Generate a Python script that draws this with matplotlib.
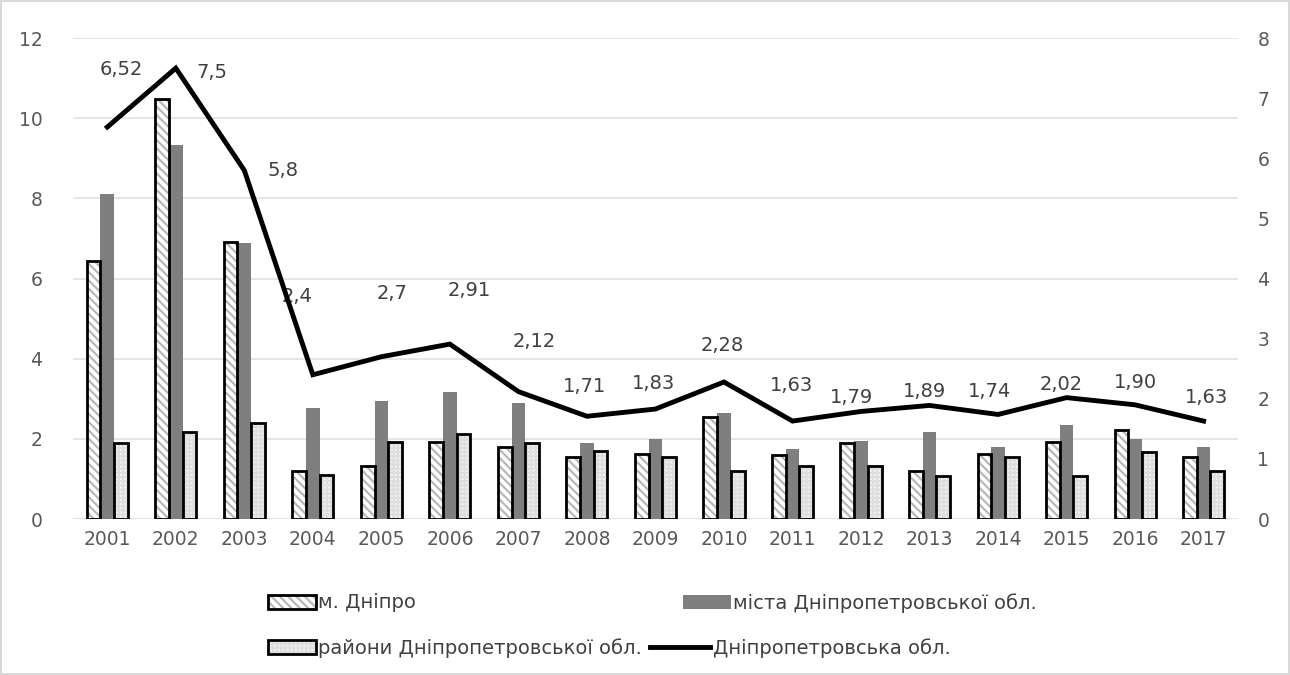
import matplotlib
matplotlib.use("Agg")
import matplotlib.pyplot as plt
from matplotlib.patches import Patch
from matplotlib.lines import Line2D
import numpy as np

years = ['2001', '2002', '2003', '2004', '2005', '2006', '2007', '2008', '2009',
         '2010', '2011', '2012', '2013', '2014', '2015', '2016', '2017']
dnipro = [6.45, 10.48, 6.9, 1.2, 1.32, 1.92, 1.8, 1.55, 1.62,
          2.55, 1.6, 1.9, 1.2, 1.62, 1.92, 2.22, 1.55]
cities = [8.1, 9.33, 6.88, 2.78, 2.95, 3.17, 2.9, 1.9, 2.0,
          2.65, 1.75, 1.95, 2.18, 1.8, 2.35, 2.0, 1.8]
districts = [1.9, 2.18, 2.4, 1.1, 1.92, 2.12, 1.9, 1.7, 1.55,
             1.2, 1.32, 1.32, 1.08, 1.55, 1.08, 1.68, 1.2]
oblast = [6.52, 7.5, 5.8, 2.4, 2.7, 2.91, 2.12, 1.71, 1.83,
          2.28, 1.63, 1.79, 1.89, 1.74, 2.02, 1.90, 1.63]
oblast_labels = ['6,52', '7,5', '5,8', '2,4', '2,7', '2,91', '2,12', '1,71', '1,83',
                 '2,28', '1,63', '1,79', '1,89', '1,74', '2,02', '1,90', '1,63']

names = ['м. Дніпро', 'міста Дніпропетровської обл.',
         'райони Дніпропетровської обл.', 'Дніпропетровська обл.']

# label offsets in pixels (dx, dy up)
lbl_off = [(14, 58), (36, -4), (39, 0), (-16, 78), (11, 63), (19, 54), (16, 50),
           (-2, 30), (-2, 26), (-2, 36), (-1, 36), (-10, 14), (-5, 14),
           (-9, 23), (-5, 13), (0, 22), (3, 24)]

plt.rcParams['hatch.linewidth'] = 1.6
tick_font = ['DejaVu Sans']
gray_txt = '#595959'
hatch_gray = '#b8b8b8'
check_face = '#f3f3f3'
check_gray = '#dedede'

fig = plt.figure(figsize=(12.9, 6.75), dpi=100)
fig.patch.set_facecolor('white')
fig.patch.set_edgecolor('#d9d9d9')
fig.patch.set_linewidth(1.5)

ax = fig.add_axes([0.0566, 0.231, 0.903, 0.7126])
ax2 = ax.twinx()

x = np.arange(len(years))
w = 0.2

# м. Дніпро: diagonal hatch
ax.bar(x - w, dnipro, w, color='white', edgecolor=hatch_gray, hatch='\\\\\\\\', linewidth=0, zorder=2)
ax.bar(x - w, dnipro, w, fill=False, edgecolor='black', linewidth=2, zorder=3)
# міста: solid gray
ax.bar(x, cities, w, color='#7f7f7f', linewidth=0, zorder=2)
# райони: light check pattern
ax.bar(x + w, districts, w, color=check_face, edgecolor=check_gray, hatch='++++', linewidth=0, zorder=2)
ax.bar(x + w, districts, w, fill=False, edgecolor='black', linewidth=2, zorder=3)

ax2.plot(x, oblast, color='black', linewidth=3.5, solid_joinstyle='miter', zorder=4)
for i, (v, s) in enumerate(zip(oblast, oblast_labels)):
    ax2.annotate(s, (x[i], v), xytext=lbl_off[i], textcoords='offset pixels',
                 ha='center', va='center', fontsize=14, color='#404040', family=tick_font)

ax.set_xlim(-0.5, len(years) - 0.5)
ax.set_ylim(0, 12)
ax.set_yticks(np.arange(0, 13, 2))
ax2.set_ylim(0, 8)
ax2.set_yticks(np.arange(0, 9, 1))
ax.set_xticks(x)
ax.set_xticklabels(years)

ax.grid(axis='y', color='#e0e0e0', linewidth=1.2, zorder=0)
ax.set_axisbelow(True)
for a in (ax, ax2):
    for sp in a.spines.values():
        sp.set_visible(False)
    a.tick_params(length=0, labelsize=13.5, labelcolor=gray_txt)
    for lab in a.get_xticklabels() + a.get_yticklabels():
        lab.set_family(tick_font)
ax.tick_params(axis='y', pad=22)
ax2.tick_params(axis='y', pad=14)
ax.tick_params(axis='x', pad=8)

handles = [
    Patch(facecolor='white', edgecolor=hatch_gray, hatch='\\\\\\\\', linewidth=0),
    Patch(facecolor='#7f7f7f', linewidth=0),
    Patch(facecolor=check_face, edgecolor=check_gray, hatch='++++', linewidth=0),
    Line2D([0], [0], color='black', linewidth=3.5),
]
frames = [True, False, True, False]
positions = [(268, 603), (683, 603), (268, 648), (650, 648)]
hlen = [2.45, 2.45, 2.45, 3.1]
for h, nm, fr, (px, py), hl in zip(handles, names, frames, positions, hlen):
    hh = [h]
    if fr:
        hh = [(h, Patch(fill=False, edgecolor='black', linewidth=2))]
    leg = fig.legend(hh, [nm], loc='center left',
                     bbox_to_anchor=(px / 1290, 1 - py / 675),
                     frameon=False, handlelength=hl, handleheight=0.7,
                     handletextpad=0.12, borderpad=0, borderaxespad=0,
                     prop={'family': 'DejaVu Sans', 'size': 14})
    for t in leg.get_texts():
        t.set_color('#404040')

fig.savefig('out.png', dpi=100)
